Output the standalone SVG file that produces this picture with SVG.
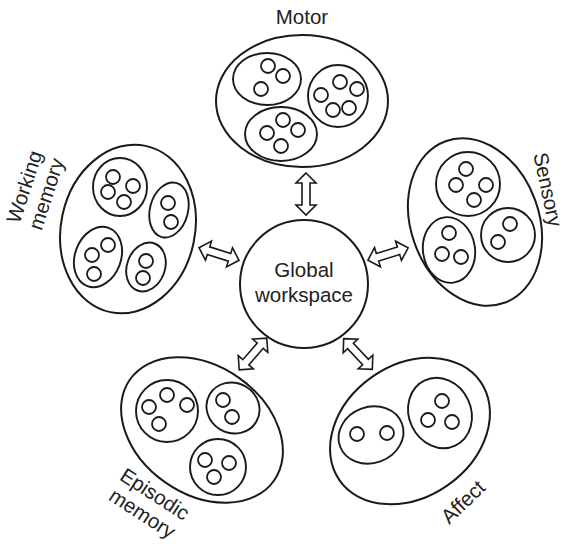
<svg xmlns="http://www.w3.org/2000/svg" xmlns:xlink="http://www.w3.org/1999/xlink" width="567" height="544" viewBox="0 0 567 544">
  <style>
    .outer { fill: none; stroke: #1a1a1a; stroke-width: 2; }
    .group { fill: none; stroke: #1a1a1a; stroke-width: 1.9; }
    .unit { fill: none; stroke: #1a1a1a; stroke-width: 1.8; }
    .hub { fill: #fff; stroke: #1a1a1a; stroke-width: 2; }
    .label { font-family: "Liberation Sans", Arial, sans-serif; font-size: 20.5px; fill: #222; text-anchor: middle; }
    .arrow { fill: #fff; stroke: #1a1a1a; stroke-width: 1.6; stroke-linejoin: miter; }
  </style>
  <defs>
    <!-- hollow double-headed arrow, 42 long, centred at the origin -->
    <path id="darrow" class="arrow" d="M -21 0 L -11 -10 L -11 -4 L 11 -4 L 11 -10 L 21 0 L 11 10 L 11 4 L -11 4 L -11 10 Z"/>
  </defs>
  <rect width="567" height="544" fill="#fff"/>

  <!-- Connectors between the global workspace and each module -->
  <g id="connectors">
    <use xlink:href="#darrow" transform="translate(306,194) rotate(90)"/>
    <use xlink:href="#darrow" transform="translate(219,254) rotate(17.5)"/>
    <use xlink:href="#darrow" transform="translate(388,254) rotate(-17)"/>
    <use xlink:href="#darrow" transform="translate(253,354) rotate(-49)"/>
    <use xlink:href="#darrow" transform="translate(358,354) rotate(47)"/>
  </g>

  <!-- Global workspace -->
  <g id="global-workspace">
    <circle class="hub" cx="304" cy="284" r="64"/>
    <text class="label" x="304" y="277">Global</text>
    <text class="label" x="304" y="302">workspace</text>
  </g>

  <!-- Motor -->
  <g id="motor">
    <text class="label" x="302" y="24">Motor</text>
    <ellipse class="outer" cx="302" cy="101" rx="86" ry="66"/>
    <ellipse class="group" cx="267" cy="79" rx="34" ry="26"/>
    <circle class="unit" cx="268" cy="66" r="7"/>
    <circle class="unit" cx="283" cy="76" r="7"/>
    <circle class="unit" cx="261" cy="89" r="7"/>
    <ellipse class="group" cx="338" cy="96" rx="30" ry="31"/>
    <circle class="unit" cx="340" cy="82" r="7"/>
    <circle class="unit" cx="357" cy="89" r="7"/>
    <circle class="unit" cx="321" cy="95" r="7"/>
    <circle class="unit" cx="333" cy="110" r="7"/>
    <circle class="unit" cx="349" cy="108" r="7"/>
    <ellipse class="group" cx="281" cy="134" rx="36" ry="27"/>
    <circle class="unit" cx="283" cy="120" r="7"/>
    <circle class="unit" cx="267" cy="133" r="7"/>
    <circle class="unit" cx="298" cy="130" r="7"/>
    <circle class="unit" cx="281" cy="146" r="7"/>
  </g>

  <!-- Sensory -->
  <g id="sensory">
    <text class="label" transform="translate(541,191) rotate(78)" y="0">Sensory</text>
    <ellipse class="outer" cx="475" cy="222" rx="64" ry="86" transform="rotate(-20 475 222)"/>
    <circle class="group" cx="468" cy="184" r="32"/>
    <circle class="unit" cx="466" cy="169" r="7"/>
    <circle class="unit" cx="456" cy="185" r="7"/>
    <circle class="unit" cx="486" cy="185" r="7"/>
    <circle class="unit" cx="474" cy="200" r="7"/>
    <ellipse class="group" cx="449" cy="250" rx="26" ry="33" transform="rotate(-8 449 250)"/>
    <circle class="unit" cx="449" cy="233" r="7"/>
    <circle class="unit" cx="442" cy="254" r="7"/>
    <circle class="unit" cx="461" cy="257" r="7"/>
    <circle class="group" cx="508" cy="235" r="27"/>
    <circle class="unit" cx="510" cy="224" r="7"/>
    <circle class="unit" cx="498" cy="242" r="7"/>
  </g>

  <!-- Working memory -->
  <g id="working-memory">
    <g transform="translate(31,189) rotate(-72)">
      <text class="label" x="0" y="0">Working</text>
      <text class="label" x="0" y="23">memory</text>
    </g>
    <ellipse class="outer" cx="128" cy="229" rx="67" ry="85" transform="rotate(12 128 229)"/>
    <ellipse class="group" cx="120" cy="187" rx="27" ry="29"/>
    <circle class="unit" cx="113" cy="177" r="7"/>
    <circle class="unit" cx="133" cy="186" r="7"/>
    <circle class="unit" cx="108" cy="192" r="7"/>
    <circle class="unit" cx="124" cy="202" r="7"/>
    <ellipse class="group" cx="169" cy="210" rx="19" ry="28" transform="rotate(15 169 210)"/>
    <circle class="unit" cx="168" cy="203" r="7"/>
    <circle class="unit" cx="171" cy="222" r="7"/>
    <ellipse class="group" cx="98" cy="257" rx="23" ry="31" transform="rotate(20 98 257)"/>
    <circle class="unit" cx="108" cy="245" r="7"/>
    <circle class="unit" cx="92" cy="255" r="7"/>
    <circle class="unit" cx="94" cy="274" r="7"/>
    <ellipse class="group" cx="146" cy="267" rx="19" ry="25" transform="rotate(20 146 267)"/>
    <circle class="unit" cx="146" cy="261" r="7"/>
    <circle class="unit" cx="143" cy="278" r="7"/>
  </g>

  <!-- Episodic memory -->
  <g id="episodic-memory">
    <g transform="translate(151,500) rotate(33)">
      <text class="label" x="0" y="0">Episodic</text>
      <text class="label" x="0" y="23">memory</text>
    </g>
    <ellipse class="outer" cx="202" cy="430" rx="88" ry="64" transform="rotate(35 202 430)"/>
    <circle class="group" cx="167" cy="411" r="31"/>
    <circle class="unit" cx="167" cy="395" r="7"/>
    <circle class="unit" cx="149" cy="407" r="7"/>
    <circle class="unit" cx="187" cy="405" r="7"/>
    <circle class="unit" cx="159" cy="424" r="7"/>
    <ellipse class="group" cx="233" cy="408" rx="27" ry="25" transform="rotate(30 233 408)"/>
    <circle class="unit" cx="223" cy="400" r="7"/>
    <circle class="unit" cx="232" cy="417" r="7"/>
    <circle class="group" cx="218" cy="467" r="28"/>
    <circle class="unit" cx="205" cy="460" r="7"/>
    <circle class="unit" cx="229" cy="463" r="7"/>
    <circle class="unit" cx="214" cy="477" r="7"/>
  </g>

  <!-- Affect -->
  <g id="affect">
    <text class="label" transform="translate(468,507) rotate(-44)" x="0" y="0">Affect</text>
    <ellipse class="outer" cx="410" cy="431" rx="86" ry="66" transform="rotate(-35 410 431)"/>
    <ellipse class="group" cx="371" cy="435" rx="33" ry="28" transform="rotate(-20 371 435)"/>
    <circle class="unit" cx="357" cy="434" r="7"/>
    <circle class="unit" cx="387" cy="433" r="7"/>
    <ellipse class="group" cx="440" cy="413" rx="31" ry="36" transform="rotate(-25 440 413)"/>
    <circle class="unit" cx="442" cy="401" r="7"/>
    <circle class="unit" cx="428" cy="420" r="7"/>
    <circle class="unit" cx="452" cy="422" r="7"/>
  </g>
</svg>
